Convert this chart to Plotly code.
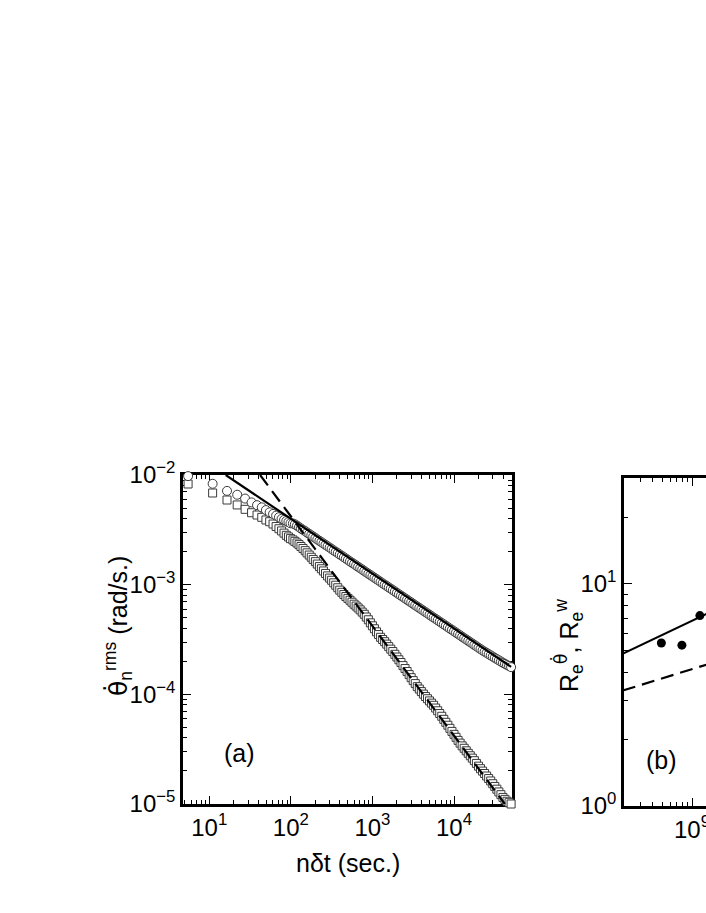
import plotly.graph_objects as go

# ---- panel (a): rms angular velocity vs lag time ----
lag_t = [5.5, 11, 16.5, 22, 27.5, 33, 38.5, 44, 49.5, 55, 60.5, 66, 71.5, 77, 82.5, 88, 93.5, 99,
         106, 112, 119, 126, 133, 141, 150, 158, 168, 178, 188, 200, 211, 224, 237, 251, 266,
         282, 299, 316, 335, 355, 376, 398, 422, 447, 473, 501, 531, 562, 596, 631, 668, 708,
         750, 794, 841, 891, 944, 1000, 1059, 1122, 1189, 1259, 1334, 1413, 1496, 1585, 1679,
         1778, 1884, 1995, 2113, 2239, 2371, 2512, 2661, 2818, 2985, 3162, 3350, 3548, 3758,
         3981, 4217, 4467, 4732, 5012, 5309, 5623, 5957, 6310, 6683, 7079, 7499, 7943, 8414,
         8913, 9441, 10000, 10593, 11220, 11885, 12589, 13335, 14125, 14962, 15849, 16788,
         17783, 18836, 19953, 21135, 22387, 23714, 25119, 26607, 28184, 29854, 31623, 33497,
         35481, 37584, 39811, 42170, 44668, 47315, 50119]

# decade exponents (log10 of rad/s)
circles_log10 = [-2.01, -2.08, -2.145, -2.18, -2.215, -2.25, -2.275, -2.295, -2.32, -2.34, -2.355,
                 -2.37, -2.385, -2.40, -2.41, -2.42, -2.43, -2.44,
                 -2.442, -2.45, -2.462, -2.475, -2.488, -2.50, -2.512, -2.525, -2.537, -2.55,
                 -2.562, -2.575, -2.588, -2.60, -2.612, -2.625, -2.637, -2.65, -2.662, -2.675,
                 -2.688, -2.70, -2.712, -2.725, -2.737, -2.75, -2.762, -2.775, -2.788, -2.80,
                 -2.812, -2.825, -2.837, -2.85, -2.862, -2.875, -2.888, -2.90, -2.912, -2.925,
                 -2.937, -2.95, -2.962, -2.975, -2.988, -3.00, -3.012, -3.025, -3.037, -3.05,
                 -3.062, -3.075, -3.088, -3.10, -3.112, -3.125, -3.137, -3.15, -3.162, -3.175,
                 -3.188, -3.20, -3.212, -3.225, -3.237, -3.25, -3.262, -3.275, -3.288, -3.30,
                 -3.312, -3.325, -3.337, -3.35, -3.362, -3.375, -3.388, -3.40, -3.412, -3.425,
                 -3.437, -3.45, -3.462, -3.475, -3.488, -3.50, -3.512, -3.525, -3.537, -3.55,
                 -3.562, -3.575, -3.587, -3.60, -3.611, -3.622, -3.634, -3.645, -3.656, -3.668,
                 -3.679, -3.69, -3.701, -3.712, -3.722, -3.733, -3.742, -3.752]

squares_log10 = [-2.082, -2.164, -2.228, -2.273, -2.313, -2.344, -2.365, -2.386, -2.41, -2.426,
                 -2.447, -2.47, -2.49, -2.51, -2.53, -2.55, -2.565, -2.58,
                 -2.592, -2.605, -2.62, -2.635, -2.652, -2.67, -2.69, -2.71, -2.73, -2.75,
                 -2.77, -2.79, -2.812, -2.835, -2.855, -2.875, -2.898, -2.92, -2.94, -2.96,
                 -2.983, -3.005, -3.028, -3.05, -3.07, -3.09, -3.108, -3.125, -3.142, -3.16,
                 -3.178, -3.195, -3.212, -3.23, -3.25, -3.27, -3.295, -3.32, -3.348, -3.375,
                 -3.402, -3.43, -3.455, -3.48, -3.50, -3.52, -3.542, -3.565, -3.588, -3.61,
                 -3.635, -3.66, -3.685, -3.71, -3.738, -3.765, -3.792, -3.82, -3.848, -3.875,
                 -3.902, -3.93, -3.952, -3.975, -3.998, -4.02, -4.04, -4.06, -4.08, -4.10,
                 -4.125, -4.15, -4.175, -4.20, -4.228, -4.255, -4.282, -4.31, -4.338, -4.365,
                 -4.392, -4.42, -4.445, -4.47, -4.492, -4.515, -4.538, -4.56, -4.582, -4.605,
                 -4.63, -4.655, -4.678, -4.70, -4.722, -4.745, -4.768, -4.79, -4.815, -4.84,
                 -4.865, -4.89, -4.915, -4.94, -4.958, -4.975, -4.988, -5.0]

# power law guides: slope -1/2 (solid) and slope -1 (dashed)
half_x = [15.9, 50119]
half_y = [1.0e-2, 1.78e-4]
one_x = [42, 42000]
one_y = [1.0e-2, 1.0e-5]

# ---- panel (b): effective Reynolds numbers vs Ra ----
ra_pts = [4.9e8, 7.9e8, 1.2e9]
re_theta = [5.42, 5.3, 7.2]
fit_theta_x = [2.0e8, 1.4e9]
fit_theta_y = [4.85, 7.33]
fit_w_x = [2.0e8, 1.4e9]
fit_w_y = [3.31, 4.33]

# tick labels
xa_vals = [10, 100, 1000, 10000]
xa_text = ["10<sup>1</sup>", "10<sup>2</sup>", "10<sup>3</sup>", "10<sup>4</sup>"]
ya_vals = [1e-5, 1e-4, 1e-3, 1e-2]
ya_text = ["10<sup>\u22125</sup>", "10<sup>\u22124</sup>", "10<sup>\u22123</sup>", "10<sup>\u22122</sup>"]
xb_vals = [1e9]
xb_text = ["10<sup>9</sup>"]
yb_vals = [1, 10]
yb_text = ["10<sup>0</sup>", "10<sup>1</sup>"]

W, H = 706, 913
FONT = "Arial, Liberation Sans, Helvetica, sans-serif"
THETA_DOT = '<span style="font-family:DejaVu Sans">\u03b8\u0307</span>'

rms_circles = [10 ** v for v in circles_log10]
rms_squares = [10 ** v for v in squares_log10]


def minor_vals(lo, hi):
    return [m * 10.0 ** k for k in range(lo, hi) for m in range(2, 10)]


def log_axis(**kw):
    d = dict(type="log", tickmode="array", ticks="inside", ticklen=8, tickwidth=1.2,
             tickcolor="black", showline=True, linecolor="black", linewidth=2.5,
             showgrid=False, zeroline=False, layer="below traces", automargin=False,
             ticklabeloverflow="allow",
             tickfont=dict(family=FONT, size=24, color="black"))
    d.update(kw)
    return d


def minor_ticks(lo, hi):
    return dict(tickmode="array", tickvals=minor_vals(lo, hi), ticks="inside",
                ticklen=4, tickcolor="black", tickwidth=1.2)


fig = go.Figure()

fig.add_trace(go.Scatter(x=lag_t, y=rms_squares, mode="markers", cliponaxis=False,
                         marker=dict(symbol="square", size=8, color="white",
                                     line=dict(color="#3a3a3a", width=1)),
                         xaxis="x", yaxis="y", showlegend=False))
fig.add_trace(go.Scatter(x=lag_t, y=rms_circles, mode="markers", cliponaxis=False,
                         marker=dict(symbol="circle", size=9, color="white",
                                     line=dict(color="#3a3a3a", width=1)),
                         xaxis="x", yaxis="y", showlegend=False))
fig.add_trace(go.Scatter(x=half_x, y=half_y, mode="lines",
                         line=dict(color="black", width=2.2),
                         xaxis="x", yaxis="y", showlegend=False))
fig.add_trace(go.Scatter(x=one_x, y=one_y, mode="lines",
                         line=dict(color="black", width=2.2, dash="13px,7px"),
                         xaxis="x", yaxis="y", showlegend=False))

fig.add_trace(go.Scatter(x=fit_theta_x, y=fit_theta_y, mode="lines",
                         line=dict(color="black", width=2.2),
                         xaxis="x2", yaxis="y2", showlegend=False))
fig.add_trace(go.Scatter(x=fit_w_x, y=fit_w_y, mode="lines",
                         line=dict(color="black", width=2.2, dash="13px,7px"),
                         xaxis="x2", yaxis="y2", showlegend=False))
fig.add_trace(go.Scatter(x=ra_pts, y=re_theta, mode="markers",
                         marker=dict(symbol="circle", size=9, color="black"),
                         xaxis="x2", yaxis="y2", showlegend=False))

fig.update_layout(
    width=W, height=H,
    margin=dict(l=0, r=0, t=0, b=0),
    paper_bgcolor="white", plot_bgcolor="white",
    font=dict(family=FONT, color="black"),
    xaxis=log_axis(domain=[183 / W, 512 / W], range=[0.678, 4.711], anchor="y",
                   tickvals=xa_vals, ticktext=xa_text, mirror="ticks",
                   minor=minor_ticks(0, 5)),
    yaxis=log_axis(domain=[1 - 804 / H, 1 - 475 / H], range=[-5, -2], anchor="x",
                   tickvals=ya_vals, ticktext=ya_text, mirror="ticks",
                   minor=minor_ticks(-5, -2)),
    xaxis2=log_axis(domain=[624 / W, 1.0], range=[8.313, 9.141], anchor="y2",
                    tickvals=xb_vals, ticktext=xb_text, mirror="ticks",
                    minor=minor_ticks(8, 10)),
    yaxis2=log_axis(domain=[1 - 806 / H, 1 - 478 / H], range=[0, 1.477], anchor="x2",
                    tickvals=yb_vals, ticktext=yb_text, mirror=False,
                    minor=minor_ticks(0, 2)),
)

ann_font = dict(family=FONT, size=25, color="black")


def label(text, px, py, angle=0):
    fig.add_annotation(text=text, x=px / W, y=1 - py / H, xref="paper", yref="paper",
                       xanchor="center", yanchor="middle", showarrow=False,
                       textangle=angle, font=ann_font)


label("n\u03b4t (sec.)", 347.5, 863)
label(THETA_DOT + "<sub>n</sub><sup>rms</sup> (rad/s.)", 118, 626, -90)
label("R<sub>e</sub><sup>" + THETA_DOT + "</sup>, R<sub>e</sub><sup>w</sup>", 568, 646, -90)
label("(a)", 239, 753)
label("(b)", 661.5, 760)

# drop the default body margin so the figure sits at the page origin
fig.write_html("out.html", config={"displayModeBar": False},
               post_script="document.body.style.margin='0px';document.body.style.overflow='hidden';")
